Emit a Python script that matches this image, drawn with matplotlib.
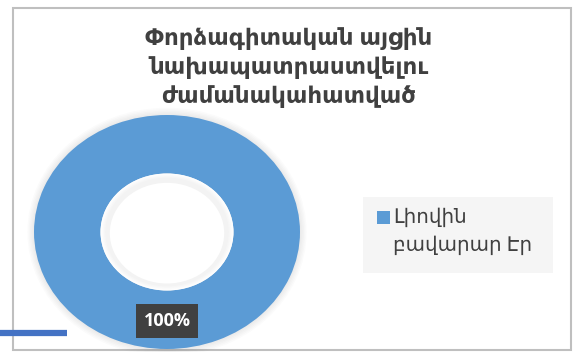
import matplotlib
matplotlib.use("Agg")
import matplotlib.pyplot as plt
from matplotlib.patches import Rectangle, Ellipse
from matplotlib.lines import Line2D

plt.rcParams['font.family'] = ['Noto Sans', 'DejaVu Sans']

title = "Փորձագիտական այցին\nնախապատրաստվելու\nժամանակահատված"
categories = ["Լիովին\nբավարար Էր"]
values = [100]
pct_labels = ["100%"]
colors = ["#5B9BD5"]

W, H = 576, 352
fig = plt.figure(figsize=(W / 100, H / 100), dpi=100)
fig.patch.set_facecolor("white")

def fx(px):
    return px / W

def fy(py):
    return 1 - py / H

# chart frame
fig.patches.append(Rectangle((fx(13), fy(350)), fx(571) - fx(13), fy(8) - fy(350),
                             transform=fig.transFigure, facecolor="white",
                             edgecolor="#BFBFBF", linewidth=1.5, zorder=-5))

# donut axes
ax = fig.add_axes([fx(34), fy(349), fx(300) - fx(34), fy(115) - fy(349)])
ax.set_zorder(2)
ax.patch.set_visible(False)

# soft shadow around the ring
for k in range(5):
    ax.add_patch(Ellipse((0, 0), 2 + 0.02 * (k + 1), 2 + 0.025 * (k + 1),
                         facecolor="black", alpha=0.015, edgecolor="none", zorder=0,
                         clip_on=False))

wedges, _ = ax.pie(values, colors=colors, startangle=90, counterclock=False,
                   radius=1.0, wedgeprops=dict(width=0.5, edgecolor="none"))
for w in wedges:
    w.set_zorder(1)

# faint inner shadow in the hole
for k in range(4):
    r = 1.0 - 0.025 * k
    ax.add_patch(Ellipse((0, 0), r, r, facecolor="white" if k == 0 else "black",
                         alpha=1 if k == 0 else 0.0, edgecolor="none", zorder=1.5))
for k in range(4):
    r = 0.99 - 0.02 * k
    ax.add_patch(Ellipse((0, 0), r, r, facecolor="black", alpha=0.012,
                         edgecolor="none", zorder=1.6 + 0.01 * k))
ax.add_patch(Ellipse((0.0, -0.01), 0.86, 0.86, facecolor="white",
                     edgecolor="none", zorder=1.7))

ax.set_xlim(-1, 1)
ax.set_ylim(-1, 1)
ax.set_aspect("auto")
ax.axis("off")

ax.text(0, -0.76, pct_labels[0], ha="center", va="center", color="white",
        fontsize=13, fontweight="bold", family=["Open Sans", "DejaVu Sans"],
        zorder=3,
        bbox=dict(boxstyle="square,pad=0.42", facecolor="#404040", edgecolor="none"))

fig.text(fx(289), fy(68), title, ha="center", va="center", fontsize=16.5,
         fontweight="bold", color="#404040", linespacing=1.3)

# legend (manual)
fig.patches.append(Rectangle((fx(363), fy(273)), fx(553) - fx(363), fy(197) - fy(273),
                             transform=fig.transFigure, facecolor="#F5F5F5",
                             edgecolor="none", zorder=1))
for i, (lab, col) in enumerate(zip(categories, colors)):
    fig.patches.append(Rectangle((fx(377), fy(224)), fx(390) - fx(377), fy(211) - fy(224),
                                 transform=fig.transFigure, facecolor=col,
                                 edgecolor="none", zorder=2))
    fig.text(fx(393), fy(208), lab, ha="left", va="top", fontsize=14.3,
             color="#404040", linespacing=1.55, zorder=3)

# short blue line at bottom-left
fig.add_artist(Line2D([fx(0), fx(67)], [fy(333), fy(333)], transform=fig.transFigure,
                      color="#4472C4", linewidth=4.5, solid_capstyle="butt", zorder=5))

fig.savefig("out.png", dpi=100)
